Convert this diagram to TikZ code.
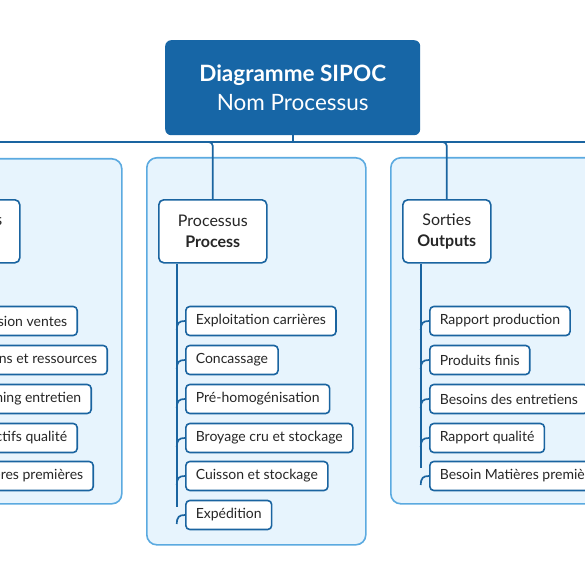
\documentclass[tikz,border=0pt]{standalone}
\usepackage{fontspec}
\setmainfont{Lato}
\definecolor{dblue}{HTML}{1766A6}
\definecolor{lblue}{HTML}{1A64A0}
\definecolor{pfill}{HTML}{E7F4FD}
\definecolor{pdraw}{HTML}{5BAAE0}
\begin{document}
\begin{tikzpicture}[x=1pt,y=-1pt,
  panel/.style={draw=pdraw,fill=pfill,line width=1.6pt,rounded corners=10pt,anchor=north west,inner sep=0pt},
  hdr/.style={draw=lblue,fill=white,line width=1.6pt,rounded corners=5pt,anchor=north west,inner sep=0pt,align=center,font=\fontsize{16}{21}\selectfont,minimum height=63pt,text=black!85},
  item/.style={draw=lblue,fill=white,line width=1.6pt,rounded corners=4pt,inner xsep=10pt,inner ysep=0pt,minimum height=29pt,font=\fontsize{14}{16}\selectfont,text=black!85},
  conn/.style={draw=lblue,line width=1.7pt},
  titlebox/.style={fill=dblue,rounded corners=6pt,anchor=north west,inner sep=0pt,align=center,text=white,minimum width=255pt,minimum height=95pt,font=\fontsize{22.5}{29}\selectfont}]
\useasboundingbox (0,0) rectangle (585,585);
\clip (0,0) rectangle (585,585);
\fill[white] (0,0) rectangle (585,585);

% panels
\node[panel,minimum width=241pt,minimum height=345pt] (pI) at (-120,158) {};
\node[panel,minimum width=219pt,minimum height=387pt] (pP) at (146,157) {};
\node[panel,minimum width=250pt,minimum height=346pt] (pO) at (390,157) {};

% title
\node[titlebox] (title) at (165,40) {\textbf{Diagramme SIPOC}\\Nom Processus};

% headers
\node[hdr,minimum width=88pt] (hI) at (-69,199) {Entrées\\\textbf{Inputs}};
\node[hdr,minimum width=108pt] (hP) at (158,199) {Processus\\\textbf{Process}};
\node[hdr,minimum width=88pt] (hO) at (402,199) {Sorties\\\textbf{Outputs}};

% bus
\coordinate (busL) at (-10,142);
\coordinate (busR) at (600,142);
\draw[conn] (busL) -- (busR);
\draw[conn] (title.south) -- (title.south |- busL);
\draw[conn,rounded corners=4pt] ([xshift=-6pt]hI.north |- busL) -- (hI.north |- busL) -- (hI.north);
\draw[conn,rounded corners=4pt] ([xshift=-6pt]hP.north |- busL) -- (hP.north |- busL) -- (hP.north);
\draw[conn,rounded corners=4pt] ([xshift=-6pt]hO.north |- busL) -- (hO.north |- busL) -- (hO.north);

% input items (right edges given)
\node[item,anchor=east] (i1) at (78,321) {Prévision ventes};
\node[item,anchor=east] (i2) at (108,360) {Moyens et ressources};
\node[item,anchor=east] (i3) at (92,399) {Planning entretien};
\node[item,anchor=east] (i4) at (78,438) {Objectifs qualité};
\node[item,anchor=east] (i5) at (94,476) {Matières premières};

% process items
\node[item,anchor=west] (p1) at (185,321) {Exploitation carrières};
\node[item,anchor=west] (p2) at (185,360) {Concassage};
\node[item,anchor=west] (p3) at (185,399) {Pré-homogénisation};
\node[item,anchor=west] (p4) at (185,438) {Broyage cru et stockage};
\node[item,anchor=west] (p5) at (185,476) {Cuisson et stockage};
\node[item,anchor=west] (p6) at (185,515) {Expédition};

% output items
\node[item,anchor=west] (o1) at (429,321) {Rapport production};
\node[item,anchor=west] (o2) at (429,360) {Produits finis};
\node[item,anchor=west] (o3) at (429,399) {Besoins des entretiens};
\node[item,anchor=west] (o4) at (429,438) {Rapport qualité};
\node[item,anchor=west] (o5) at (429,476) {Besoin Matières premières};

% process tree
\coordinate (tP) at ([xshift=-36pt]hP.south);
\draw[conn] (tP) -- (tP |- 0,507);
\foreach \n in {p1,p2,p3,p4,p5,p6}{
  \draw[conn] ([yshift=-9pt]tP |- \n.west) .. controls ([yshift=-2pt]tP |- \n.west) and ([xshift=-6pt]\n.west) .. (\n.west);
}
% output tree
\coordinate (tO) at ([xshift=-26pt]hO.south);
\draw[conn] (tO) -- (tO |- 0,468);
\foreach \n in {o1,o2,o3,o4,o5}{
  \draw[conn] ([yshift=-9pt]tO |- \n.west) .. controls ([yshift=-2pt]tO |- \n.west) and ([xshift=-6pt]\n.west) .. (\n.west);
}
\end{tikzpicture}
\end{document}
